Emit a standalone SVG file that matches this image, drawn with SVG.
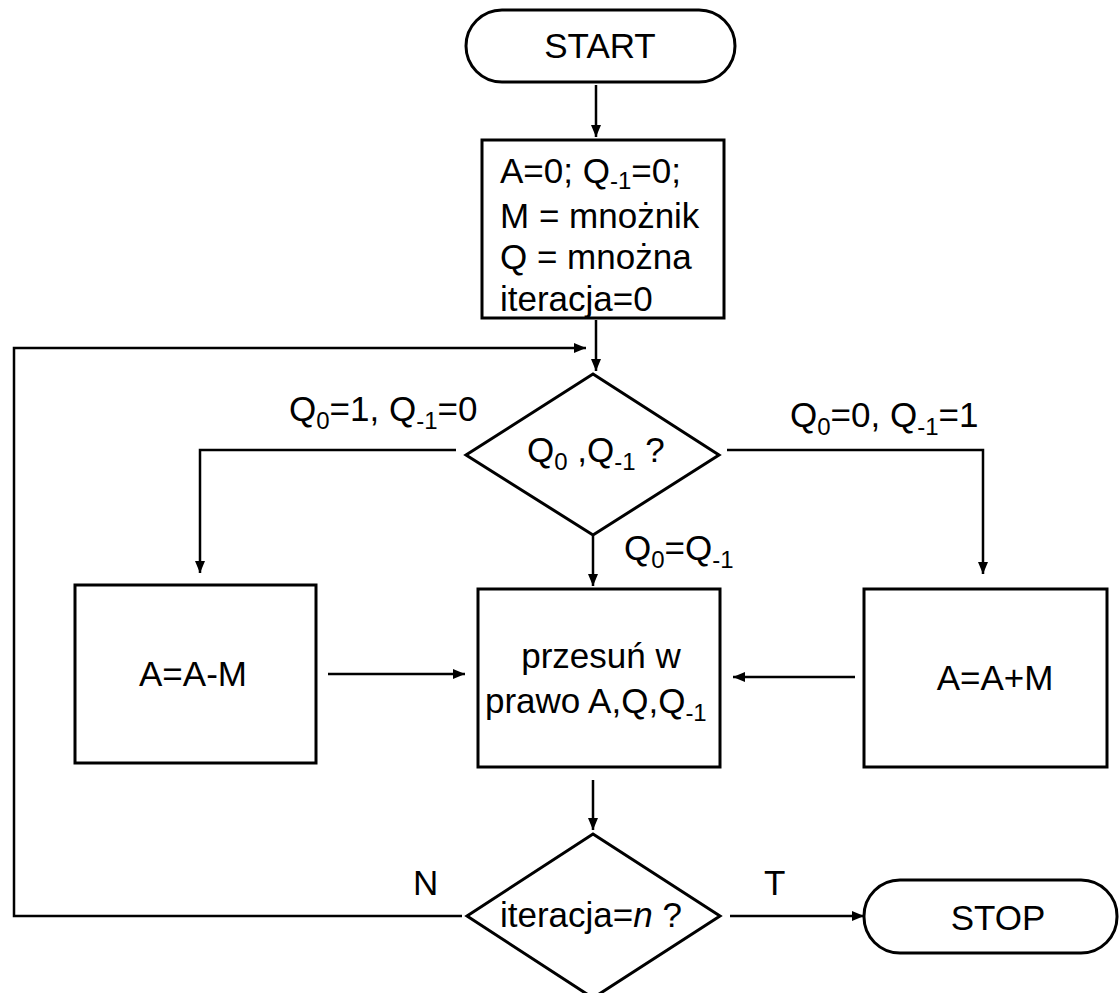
<svg xmlns="http://www.w3.org/2000/svg" width="1119" height="993" viewBox="0 0 1119 993">
<style>
.shape{fill:#fff;stroke:#000;stroke-width:3}
.conn{fill:none;stroke:#000;stroke-width:2.5}
text{font-family:"Liberation Sans",Arial,sans-serif;font-size:35px;fill:#000}
.sub{font-size:24px}
</style>
<defs>
<marker id="ah" markerUnits="userSpaceOnUse" markerWidth="14" markerHeight="12" refX="12" refY="5" orient="auto">
<path d="M0,0 L12,5 L0,10 Z" fill="#000"/>
</marker>
</defs>
<rect width="1119" height="993" fill="#fff"/>
<g id="connectors">
<line class="conn" x1="596" y1="85" x2="596" y2="137" marker-end="url(#ah)"/>
<line class="conn" x1="596" y1="320" x2="596" y2="371" marker-end="url(#ah)"/>
<polyline class="conn" points="462,916 14,916 14,348 586,348" marker-end="url(#ah)"/>
<polyline class="conn" points="456,450 200,450 200,573" marker-end="url(#ah)"/>
<polyline class="conn" points="727,450 983,450 983,574" marker-end="url(#ah)"/>
<line class="conn" x1="593" y1="536" x2="593" y2="586" marker-end="url(#ah)"/>
<line class="conn" x1="328" y1="674" x2="465" y2="674" marker-end="url(#ah)"/>
<line class="conn" x1="855" y1="677" x2="733" y2="677" marker-end="url(#ah)"/>
<line class="conn" x1="593" y1="780" x2="593" y2="830" marker-end="url(#ah)"/>
<line class="conn" x1="730" y1="916" x2="864" y2="916" marker-end="url(#ah)"/>
</g>
<g id="start">
<rect class="shape" x="466" y="10" width="269" height="72" rx="36" ry="36"/>
<text x="600" y="58" text-anchor="middle">START</text>
</g>
<g id="init">
<rect class="shape" x="482" y="140" width="242" height="178"/>
<text x="500" y="183">A=0; Q<tspan class="sub" dy="6">-1</tspan><tspan dy="-6">=0;</tspan></text>
<text x="500" y="228">M = mnożnik</text>
<text x="500" y="269">Q = mnożna</text>
<text x="500" y="311">iteracja=0</text>
</g>
<g id="decision1">
<polygon class="shape" points="593,374 719,455 593,535 466,455"/>
<text x="527" y="462">Q<tspan class="sub" dy="8">0</tspan><tspan dy="-8"> ,Q</tspan><tspan class="sub" dy="8">-1</tspan><tspan dy="-8"> ?</tspan></text>
</g>
<g id="label-left">
<text x="289" y="421">Q<tspan class="sub" dy="8">0</tspan><tspan dy="-8">=1, Q</tspan><tspan class="sub" dy="8">-1</tspan><tspan dy="-8">=0</tspan></text>
</g>
<g id="label-right">
<text x="790" y="427">Q<tspan class="sub" dy="8">0</tspan><tspan dy="-8">=0, Q</tspan><tspan class="sub" dy="8">-1</tspan><tspan dy="-8">=1</tspan></text>
</g>
<g id="label-mid">
<text x="624" y="560">Q<tspan class="sub" dy="8">0</tspan><tspan dy="-8">=Q</tspan><tspan class="sub" dy="8">-1</tspan></text>
</g>
<g id="sub-box">
<rect class="shape" x="75" y="585" width="241" height="178"/>
<text x="193" y="686" text-anchor="middle">A=A-M</text>
</g>
<g id="shift-box">
<rect class="shape" x="478" y="589" width="242" height="178"/>
<text x="601" y="668" text-anchor="middle">przesuń w</text>
<text x="485" y="713">prawo A,Q,Q<tspan class="sub" dy="8">-1</tspan></text>
</g>
<g id="add-box">
<rect class="shape" x="864" y="589" width="243" height="178"/>
<text x="995" y="690" text-anchor="middle">A=A+M</text>
</g>
<g id="decision2">
<polygon class="shape" points="593,834 720,916 593,998 467,916"/>
<text x="500" y="927">iteracja=<tspan font-style="italic">n</tspan> ?</text>
</g>
<g id="label-n"><text x="413" y="895">N</text></g>
<g id="label-t"><text x="764" y="895">T</text></g>
<g id="stop">
<rect class="shape" x="864" y="880" width="253" height="73" rx="36" ry="36"/>
<text x="998" y="930" text-anchor="middle">STOP</text>
</g>
</svg>
